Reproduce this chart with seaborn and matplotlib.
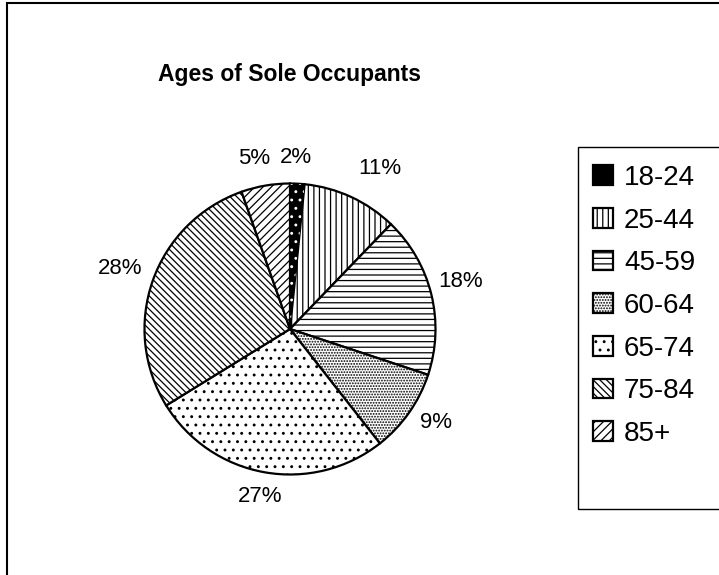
import matplotlib
matplotlib.use("Agg")
import numpy as np
import matplotlib.pyplot as plt
from matplotlib import font_manager
from matplotlib.patches import Rectangle, Wedge
import seaborn as sns

# Data (share of sole occupants by age band, %)
age_groups = ["18-24", "25-44", "45-59", "60-64", "65-74", "75-84", "85+"]
shares = [1.6, 10.6, 17.9, 9.3, 26.8, 28.4, 5.4]

# Style
fills = ["black", "white", "white", "white", "white", "white", "white"]
hatches = ["", "|||", "---", "......", "..", "\\\\\\\\\\", "////"]
label_dist = [1.18, 1.265, 1.22, 1.19, 1.17, 1.24, 1.20]
label_turn = [0.9, -4.5, 1.8, 2.6, -0.1, 0.0, 2.0]   # degrees off slice middle

sns.set_theme(style="white")
plt.rcParams["font.family"] = ["Liberation Sans", "DejaVu Sans"]
plt.rcParams["text.color"] = "black"
plt.rcParams["hatch.linewidth"] = 0.9

installed = {f.name for f in font_manager.fontManager.ttflist}
narrow = "Liberation Sans Narrow" in installed
title_family = ["Liberation Sans Narrow"] if narrow else ["Liberation Sans"]
title_size = 19 if narrow else 16.5

W, H = 719, 575
fig = plt.figure(figsize=(W / 100, H / 100), dpi=100)
fig.patch.set_facecolor("white")

# pie centre (290, 329) px, radius 145.5 px
cx, cy, r = 290, 329, 145.5
ax = fig.add_axes([(cx - r) / W, (H - cy - r) / H, 2 * r / W, 2 * r / H])

wedges, _, pct_texts = ax.pie(
    shares,
    startangle=90,
    counterclock=False,
    colors=fills,
    hatch=hatches,
    autopct=lambda p: f"{p:.0f}%",
    pctdistance=1.2,
    wedgeprops=dict(edgecolor="black", linewidth=1.6),
    textprops=dict(fontsize=16, color="black"),
)
ax.set_xlim(-1, 1)
ax.set_ylim(-1, 1)
ax.set_aspect("equal")

# nudge the percentage labels like Excel's best-fit placement
for w, t, d, turn in zip(wedges, pct_texts, label_dist, label_turn):
    ang = np.deg2rad((w.theta1 + w.theta2) / 2 + turn)
    t.set_position((d * np.cos(ang), d * np.sin(ang)))
    t.set_ha("center")
    t.set_va("center")

# white dots on the black slice
w0 = wedges[0]
ax.add_patch(
    Wedge(w0.center, w0.r, w0.theta1, w0.theta2,
          facecolor="none", edgecolor="white", hatch="..", linewidth=0)
)

fig.suptitle("Ages of Sole Occupants", x=cx / W, y=1 - 75 / H,
             va="center", fontsize=title_size, fontweight="bold",
             family=title_family, color="black")

leg = fig.legend(
    wedges, age_groups,
    loc="upper left",
    bbox_to_anchor=(579 / W, 1 - 151 / H),
    frameon=False,
    fontsize=20,
    handlelength=0.72,
    handleheight=0.72,
    handletextpad=0.4,
    labelspacing=0.6,
    borderpad=0,
    labelcolor="black",
)

# legend box (right side runs off the chart) and chart frame
fig.patches.append(Rectangle((578 / W, 1 - 509 / H), 0.3, (509 - 147) / H,
                             transform=fig.transFigure, fill=False,
                             edgecolor="black", linewidth=1))
fig.patches.append(Rectangle((7 / W, -0.1), 1.1, 1.1 - 3 / H,
                             transform=fig.transFigure, fill=False,
                             edgecolor="black", linewidth=1.5))

fig.savefig("out.png", dpi=100)
